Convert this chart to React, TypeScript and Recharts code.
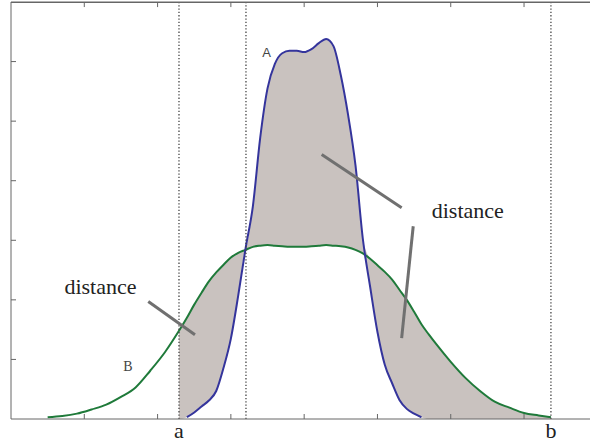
import { ComposedChart, Area, Line, XAxis, YAxis, ReferenceLine, ReferenceDot } from "recharts";

// sample positions on the horizontal axis (tick every 1 unit)
const xs = [
  0.5, 0.7, 0.9, 1.1, 1.3, 1.5, 1.7, 1.9, 2.1, 2.292,
  2.4, 2.5, 2.6, 2.7, 2.8, 2.9, 3.0, 3.1, 3.2, 3.3,
  3.4, 3.5, 3.6, 3.7, 3.8, 3.9, 4.0, 4.1, 4.2, 4.3,
  4.4, 4.5, 4.6, 4.7, 4.8, 4.9, 5.0, 5.1, 5.2, 5.3,
  5.4, 5.5, 5.6, 5.7, 5.8, 6.0, 6.2, 6.4, 6.6, 6.8,
  7.0, 7.2, 7.367,
];

// curve A (blue, narrow and tall)
const curveA: (number | null)[] = [
  null, null, null, null, null, null, null, null, null, null,
  0.03, 0.11, 0.21, 0.31, 0.47, 0.86, 1.35, 2.07, 2.86, 3.57,
  4.72, 5.55, 5.96, 6.14, 6.18, 6.18, 6.16, 6.21, 6.31, 6.38,
  6.26, 5.77, 5.1, 4.26, 3.03, 2.22, 1.46, 0.91, 0.6, 0.32,
  0.17, 0.09, 0.03, null, null, null, null, null, null, null,
  null, null, null,
];

// curve B (green, wide and low)
const curveB = [
  0.03, 0.05, 0.09, 0.16, 0.24, 0.37, 0.53, 0.81, 1.12, 1.48,
  1.7, 1.92, 2.12, 2.31, 2.46, 2.59, 2.71, 2.79, 2.84, 2.89,
  2.91, 2.92, 2.91, 2.9, 2.89, 2.89, 2.89, 2.9, 2.91, 2.92,
  2.91, 2.9, 2.88, 2.84, 2.78, 2.69, 2.58, 2.47, 2.34, 2.17,
  2.0, 1.8, 1.59, 1.42, 1.26, 0.96, 0.69, 0.47, 0.29, 0.19,
  0.1, 0.06, 0.03,
];

const xTicks = [1, 2, 3, 4, 5, 6, 7];
const yTicks = [1, 2, 3, 4, 5, 6];
const yMax = 7;
const bounds = { a: 2.292, mid: 3.206, b: 7.367 };

const rows = xs.map((x, i) => {
  const a = curveA[i] ?? 0;
  const b = curveB[i];
  const inside = x >= bounds.a - 0.001 && x <= bounds.b + 0.001;
  return {
    x,
    A: curveA[i],
    B: b,
    band: inside ? [Math.min(a, b), Math.max(a, b)] : null,
  };
});

const serif = "'Liberation Serif', 'Times New Roman', serif";
const axisColor = "#666";
const noLabel = () => "";

export default function App() {
  return (
    <div style={{ position: "absolute", left: 0, top: 0, width: 590, height: 445, overflow: "hidden", background: "#fff" }}>
      <ComposedChart width={590} height={445} data={rows} margin={{ top: 2, right: 0, bottom: 0, left: 0 }}>
        <XAxis
          dataKey="x"
          type="number"
          domain={[0, 7.9]}
          ticks={xTicks}
          allowDataOverflow
          tickFormatter={noLabel}
          tickSize={-5}
          height={26}
          stroke={axisColor}
        />
        <YAxis
          type="number"
          domain={[0, yMax]}
          ticks={yTicks}
          allowDataOverflow
          tickFormatter={noLabel}
          tickSize={-5}
          width={11}
          stroke={axisColor}
        />
        <Area
          dataKey="band"
          type="monotone"
          stroke="none"
          fill="#c9c2bf"
          fillOpacity={1}
          isAnimationActive={false}
          activeDot={false}
        />
        <Line dataKey="B" type="monotone" stroke="#1f7a3a" strokeWidth={2} dot={false} activeDot={false} isAnimationActive={false} />
        <Line dataKey="A" type="monotone" stroke="#34349c" strokeWidth={2} dot={false} activeDot={false} isAnimationActive={false} />

        {/* top frame with inward ticks */}
        <ReferenceLine y={yMax} stroke={axisColor} ifOverflow="visible" />
        {xTicks.map((t) => (
          <ReferenceLine key={t} segment={[{ x: t, y: yMax }, { x: t, y: yMax - 0.085 }]} stroke={axisColor} ifOverflow="visible" />
        ))}

        <ReferenceLine
          x={bounds.a}
          stroke="#444"
          strokeWidth={1.3}
          strokeDasharray="1.3 2"
          label={{ value: "a", position: "bottom", offset: 3, fontSize: 22, fill: "#222", fontFamily: serif }}
        />
        <ReferenceLine x={bounds.mid} stroke="#444" strokeWidth={1.3} strokeDasharray="1.3 2" />
        <ReferenceLine
          x={bounds.b}
          stroke="#444"
          strokeWidth={1.3}
          strokeDasharray="1.3 2"
          label={{ value: "b", position: "bottom", offset: 3, fontSize: 22, fill: "#222", fontFamily: serif }}
        />
        <ReferenceLine segment={[{ x: 1.873, y: 1.974 }, { x: 2.51, y: 1.413 }]} stroke="#707070" strokeWidth={3} />
        <ReferenceLine segment={[{ x: 4.239, y: 4.442 }, { x: 5.33, y: 3.545 }]} stroke="#707070" strokeWidth={3} />
        <ReferenceLine segment={[{ x: 5.488, y: 3.236 }, { x: 5.33, y: 1.358 }]} stroke="#707070" strokeWidth={3} />
        <ReferenceDot
          x={1.221}
          y={2.234}
          r={0}
          stroke="none"
          fill="none"
          label={{ value: "distance", position: "center", fontSize: 22, fill: "#222", fontFamily: serif }}
        />
        <ReferenceDot
          x={6.232}
          y={3.508}
          r={0}
          stroke="none"
          fill="none"
          label={{ value: "distance", position: "center", fontSize: 22, fill: "#222", fontFamily: serif }}
        />
        <ReferenceDot
          x={3.488}
          y={6.162}
          r={0}
          stroke="none"
          fill="none"
          label={{ value: "A", position: "center", fontSize: 13, fill: "#444", fontFamily: "'Liberation Sans', Arial, sans-serif" }}
        />
        <ReferenceDot
          x={1.596}
          y={0.892}
          r={0}
          stroke="none"
          fill="none"
          label={{ value: "B", position: "center", fontSize: 14, fill: "#444", fontFamily: serif }}
        />
      </ComposedChart>
      {/* plain frame edge along the top, in case the reference line sits off-canvas */}
      <div style={{ position: "absolute", left: 11, right: 0, top: 2, height: 1, background: axisColor, pointerEvents: "none" }} />
    </div>
  );
}
